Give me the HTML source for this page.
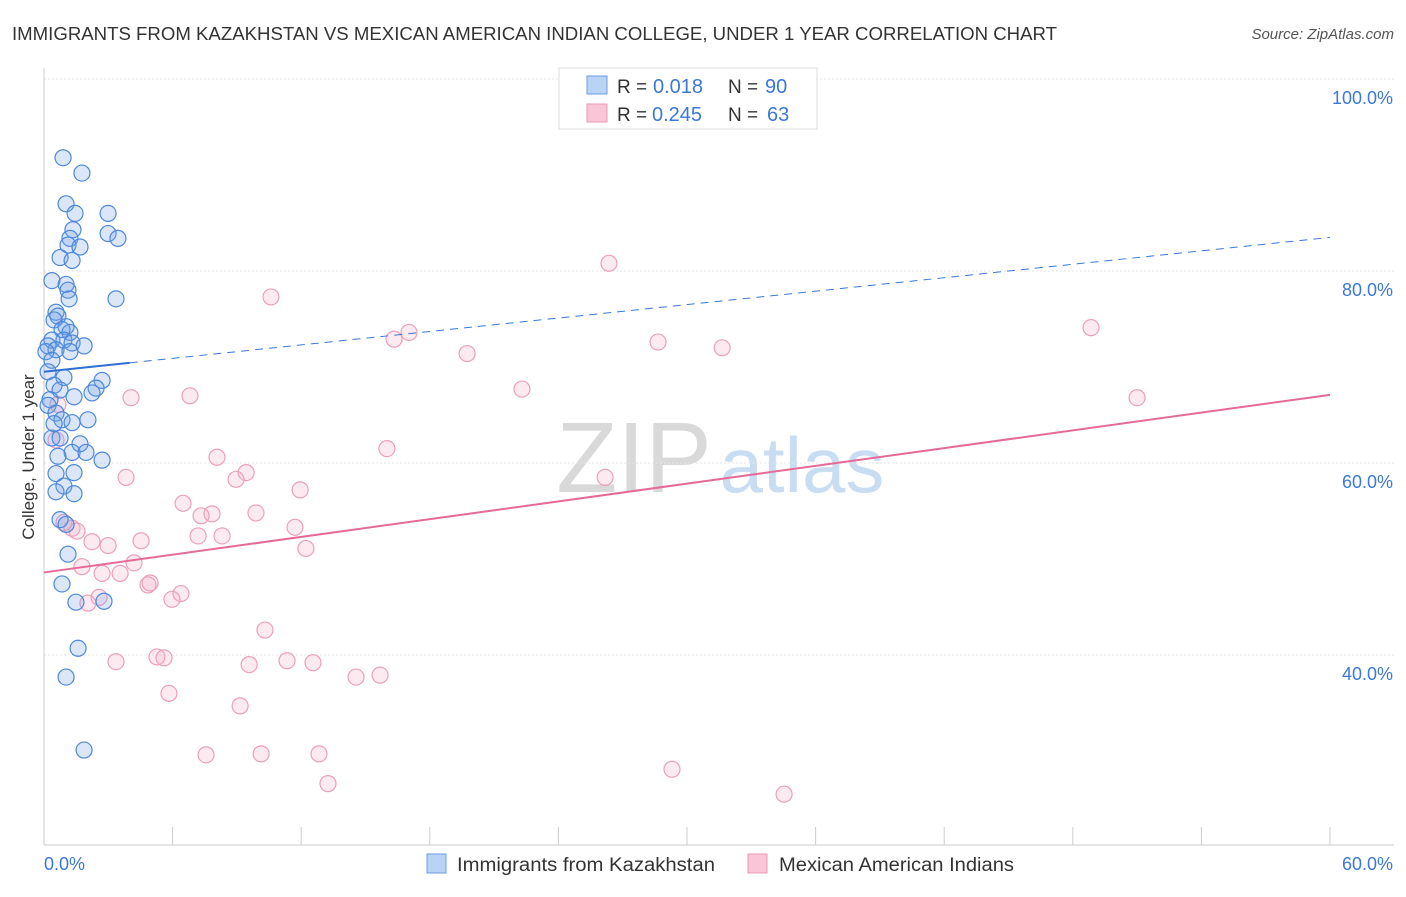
<!DOCTYPE html>
<html><head><meta charset="utf-8">
<style>
body{margin:0;background:#fff;font-family:"Liberation Sans",sans-serif;}
svg text{font-family:"Liberation Sans",sans-serif;}
</style></head>
<body>
<svg id="chart" width="1406" height="892" viewBox="0 0 1406 892">
<text x="12" y="40" font-size="18" fill="#333" textLength="1045" lengthAdjust="spacingAndGlyphs">IMMIGRANTS FROM KAZAKHSTAN VS MEXICAN AMERICAN INDIAN COLLEGE, UNDER 1 YEAR CORRELATION CHART</text>
<text x="1394" y="39" font-size="15" fill="#555" font-style="italic" text-anchor="end">Source: ZipAtlas.com</text>
<g>
<text x="634" y="492" font-size="100" fill="#d9d9d9" font-family="Liberation Serif" text-anchor="middle">ZIP</text>
<text x="802" y="492" font-size="78" fill="#c8dcf2" text-anchor="middle">atlas</text>
</g>
<g id="grid"></g>
<g id="axes"></g>
<g id="marks"></g>
<text transform="translate(34,457) rotate(-90)" font-size="17" fill="#333" text-anchor="middle">College, Under 1 year</text>
<g>
<rect x="559" y="68" width="258" height="61" fill="#fff" stroke="#ddd"/>
<rect x="587" y="76" width="20" height="18" fill="#b9d3f5" stroke="#6a9be0"/>
<rect x="587" y="104" width="20" height="18" fill="#f8c6d6" stroke="#e99ab6"/>
<text x="617" y="93" font-size="19" fill="#333">R =</text>
<text x="653" y="93" font-size="20" fill="#3b78d8">0.018</text>
<text x="728" y="93" font-size="19" fill="#333">N =</text>
<text x="765" y="93" font-size="20" fill="#3b78d8">90</text>
<text x="617" y="121" font-size="19" fill="#333">R =</text>
<text x="652" y="121" font-size="20" fill="#3b78d8">0.245</text>
<text x="728" y="121" font-size="19" fill="#333">N =</text>
<text x="767" y="121" font-size="20" fill="#3b78d8">63</text>
</g>
<g>
<rect x="427" y="854" width="19" height="19" fill="#b9d3f5" stroke="#6a9be0"/>
<text x="457" y="871" font-size="19" fill="#333" textLength="258" lengthAdjust="spacingAndGlyphs">Immigrants from Kazakhstan</text>
<rect x="748" y="854" width="19" height="19" fill="#f8c6d6" stroke="#e99ab6"/>
<text x="779" y="871" font-size="19" fill="#333" textLength="235" lengthAdjust="spacingAndGlyphs">Mexican American Indians</text>
</g>
</svg>
<script>
const xTicks=[0,6,12,18,24,30,36,42,48,54,60];
const yTicks=[40,60,80,100];
const yTickLabels=["40.0%","60.0%","80.0%","100.0%"];
const xTickLabels=["0.0%","60.0%"];
const blueX=[0.89,1.77,1.03,1.45,2.99,1.35,1.21,2.99,3.45,1.12,1.68,0.75,1.31,0.37,1.03,1.12,1.17,3.36,0.56,0.65,0.47,1.03,0.84,1.21,0.37,0.93,1.31,1.87,0.19,0.56,0.09,1.21,0.37,0.19,0.93,2.71,0.47,2.43,2.24,0.75,1.4,0.28,0.19,0.56,0.84,2.05,1.31,0.47,0.37,0.75,1.68,1.31,1.96,0.65,2.71,1.4,0.56,0.93,0.56,1.4,0.75,1.03,1.12,0.84,1.49,2.8,1.59,1.03,1.87];
const blueY=[91.8,90.2,87.0,86.0,86.0,84.3,83.4,83.9,83.4,82.7,82.5,81.4,81.1,79.0,78.6,78.0,77.1,77.1,75.7,75.3,74.9,74.2,73.9,73.6,72.8,72.8,72.5,72.2,72.2,71.8,71.6,71.6,70.7,69.5,68.9,68.6,68.1,67.8,67.3,67.6,66.9,66.6,66.0,65.2,64.5,64.5,64.2,64.1,62.6,62.6,62.0,61.1,61.1,60.7,60.3,59.0,58.9,57.6,57.0,56.8,54.1,53.6,50.5,47.4,45.5,45.6,40.7,37.7,30.1];
const pinkX=[26.36,10.59,48.85,17.03,16.33,28.65,31.64,19.74,22.3,4.06,6.81,51.0,0.65,16.0,8.07,9.43,8.96,3.83,26.18,11.95,6.49,7.84,7.33,9.89,11.71,0.93,1.31,1.54,7.19,8.31,4.53,2.24,2.99,12.22,4.2,1.77,2.71,3.55,4.95,4.85,6.39,5.97,2.05,2.57,10.31,3.36,5.27,5.6,9.57,11.34,12.55,14.56,15.68,5.83,9.15,7.56,10.13,12.83,13.25,29.3,34.53,0.56];
const pinkY=[80.8,77.3,74.1,73.6,72.9,72.6,72.0,71.4,67.7,66.8,67.0,66.8,66.1,61.5,60.6,59.0,58.3,58.5,58.5,57.2,55.8,54.7,54.5,54.8,53.3,53.8,53.2,52.9,52.4,52.4,51.9,51.8,51.4,51.1,49.6,49.2,48.5,48.5,47.5,47.3,46.4,45.8,45.4,46.0,42.6,39.3,39.8,39.7,39.0,39.4,39.2,37.7,37.9,36.0,34.7,29.6,29.7,29.7,26.6,28.1,25.5,62.4];
const blueTrend=[69.5,83.5];
const pinkTrend=[48.6,67.1];
const NS="http://www.w3.org/2000/svg";
function sx(v){return 44+v*(1286/60);}
function sy(v){return 79+(100-v)*9.6;}
function mk(tag,attrs,parent){const e=document.createElementNS(NS,tag);for(const k in attrs)e.setAttribute(k,attrs[k]);parent.appendChild(e);return e;}
const grid=document.getElementById('grid'),axes=document.getElementById('axes'),marks=document.getElementById('marks');
yTicks.forEach((t,i)=>{
 const l=mk('line',{x1:44,x2:1394,y1:sy(t),y2:sy(t),stroke:'#e6e6e6','stroke-dasharray':'2,2'},grid);
 
 
 const tx=mk('text',{x:1393,y:sy(t)+25,'font-size':18,fill:'#3b78d8','text-anchor':'end'},axes);
 tx.textContent=yTickLabels[i];
 
 
});
const xa=mk('line',{x1:44,x2:1394,y1:845,y2:845,stroke:'#ccc'},axes);


const ya=mk('line',{x1:44,x2:44,y1:68,y2:845,stroke:'#ccc'},axes);


xTicks.forEach(t=>{
 const l=mk('line',{x1:sx(t),x2:sx(t),y1:827,y2:845,stroke:'#ccc'},axes);
 
 
});
const xl0=mk('text',{x:44,y:870,'font-size':18,fill:'#3b78d8'},axes);xl0.textContent=xTickLabels[0];


const xl1=mk('text',{x:1393,y:870,'font-size':18,fill:'#3b78d8','text-anchor':'end'},axes);xl1.textContent=xTickLabels[1];


pinkX.forEach((x,i)=>{
 const c=mk('circle',{cx:sx(x),cy:sy(pinkY[i]),r:8,fill:'rgba(244,170,196,0.25)',stroke:'#eaa0bb','stroke-width':1.2},marks);
 
 
});
blueX.forEach((x,i)=>{
 const c=mk('circle',{cx:sx(x),cy:sy(blueY[i]),r:8,fill:'rgba(110,160,230,0.25)',stroke:'#4d88da','stroke-width':1.2},marks);
 
 
});
function ty(tr,x){return tr[0]+(tr[1]-tr[0])*x/60;}
const pt=mk('line',{x1:sx(0),y1:sy(pinkTrend[0]),x2:sx(60),y2:sy(pinkTrend[1]),stroke:'#e46a97','stroke-width':2},marks);


const bd=mk('line',{x1:sx(4),y1:sy(ty(blueTrend,4)),x2:sx(60),y2:sy(blueTrend[1]),stroke:'#3b78d8','stroke-width':1,'stroke-dasharray':'8,6'},marks);


const bs=mk('line',{x1:sx(0),y1:sy(blueTrend[0]),x2:sx(4),y2:sy(ty(blueTrend,4)),stroke:'#2f6fd6','stroke-width':2},marks);


</script>
</body></html>
